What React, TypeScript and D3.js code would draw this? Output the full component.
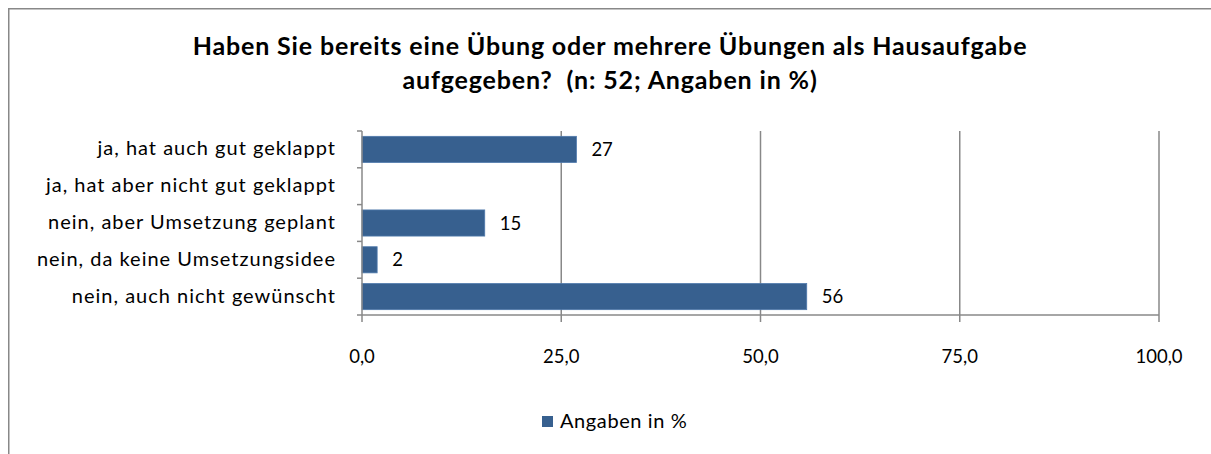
import React from "react";
import * as d3 from "d3";

const categories = [
  "ja, hat auch gut geklappt",
  "ja, hat aber nicht gut geklappt",
  "nein, aber Umsetzung geplant",
  "nein, da keine Umsetzungsidee",
  "nein, auch nicht gewünscht",
];
const values = [26.9, 0, 15.4, 1.9, 55.8];
const valueLabels = ["27", "", "15", "2", "56"];
const xTicks = [0, 25, 50, 75, 100];
const titleLines = [
  "Haben Sie bereits eine Übung oder mehrere Übungen als Hausaufgabe",
  "aufgegeben?  (n: 52; Angaben in %)",
];
const legendLabel = "Angaben in %";

const W = 1211;
const H = 454;
const FONT = "Lato, 'Open Sans', sans-serif";
const BAR = "#37608F";
const GRID = "#888888";

export default function App() {
  const x = d3.scaleLinear().domain([0, 100]).range([362, 1159]);
  const y = d3
    .scaleBand<string>()
    .domain(categories)
    .range([131, 315])
    .paddingInner(0.29)
    .paddingOuter(0.145);
  const step = y.step();
  const bounds = d3.range(categories.length + 1).map((i) => 131 + i * step);
  const fmt = (v: number) => d3.format(".1f")(v).replace(".", ",");

  return (
    <svg
      width={W}
      height={H}
      style={{ position: "absolute", left: 0, top: 0, display: "block" }}
      fontFamily={FONT}
    >
      <rect x={0} y={0} width={W} height={H} fill="#fff" />
      <rect
        x={8.75}
        y={8.75}
        width={1400}
        height={800}
        fill="#fff"
        stroke={GRID}
        strokeWidth={1.5}
      />
      {titleLines.map((t, i) => (
        <text
          key={i}
          x={610}
          y={55 + i * 34}
          textAnchor="middle"
          fontWeight="bold"
          fontSize={25}
          letterSpacing={0.85}
          style={{ whiteSpace: "pre" }}
          fill="#000"
        >
          {t}
        </text>
      ))}
      {/* gridlines */}
      {xTicks.slice(1).map((t) => (
        <line
          key={t}
          x1={x(t)}
          x2={x(t)}
          y1={131}
          y2={315}
          stroke={GRID}
          strokeWidth={1.5}
        />
      ))}
      {/* bars */}
      {categories.map((c, i) =>
        values[i] > 0 ? (
          <rect
            key={c}
            x={x(0)}
            y={y(c)!}
            width={x(values[i]) - x(0)}
            height={y.bandwidth()}
            fill={BAR}
            stroke="#4F79AC"
            strokeWidth={0.8}
          />
        ) : null
      )}
      {/* value labels */}
      {categories.map((c, i) =>
        valueLabels[i] ? (
          <text
            key={c}
            x={x(values[i]) + 15}
            y={y(c)! + y.bandwidth() / 2}
            dy="0.36em"
            fontSize={18.5}
            fill="#000"
          >
            {valueLabels[i]}
          </text>
        ) : null
      )}
      {/* y axis */}
      <line x1={x(0)} x2={x(0)} y1={131} y2={315} stroke={GRID} strokeWidth={1.5} />
      {bounds.map((b, i) => (
        <line key={i} x1={x(0) - 5} x2={x(0)} y1={b} y2={b} stroke={GRID} strokeWidth={1.5} />
      ))}
      {categories.map((c) => (
        <text
          key={c}
          x={336}
          y={y(c)! + y.bandwidth() / 2}
          dy="0.3em"
          textAnchor="end"
          fontSize={20}
          letterSpacing={1.0}
          fill="#000"
        >
          {c}
        </text>
      ))}
      {/* x axis */}
      <line x1={x(0)} x2={x(100)} y1={315} y2={315} stroke={GRID} strokeWidth={1.5} />
      {xTicks.map((t) => (
        <g key={t}>
          <line x1={x(t)} x2={x(t)} y1={315} y2={322} stroke={GRID} strokeWidth={1.5} />
          <text x={x(t)} y={363} textAnchor="middle" fontSize={18.5} fill="#000">
            {fmt(t)}
          </text>
        </g>
      ))}
      {/* legend */}
      <rect x={542} y={416} width={11} height={11} fill={BAR} />
      <text x={560} y={428} fontSize={20} letterSpacing={0.6} fill="#000">
        {legendLabel}
      </text>
    </svg>
  );
}
